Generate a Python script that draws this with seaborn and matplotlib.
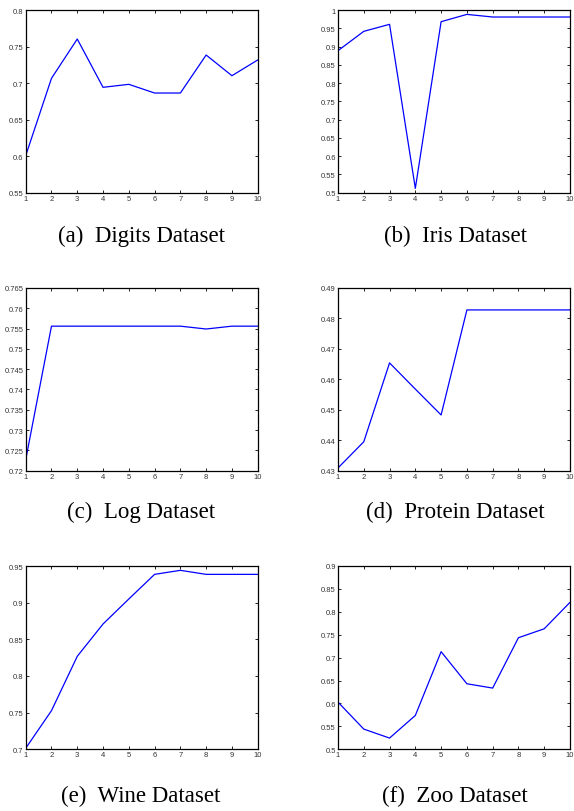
import matplotlib
matplotlib.use("Agg")
import matplotlib.pyplot as plt
import matplotlib.ticker as mticker
import numpy as np
import pandas as pd
import seaborn as sns

x_vals = [1, 2, 3, 4, 5, 6, 7, 8, 9, 10]
digits = [0.6006, 0.7065, 0.7603, 0.6942, 0.6983, 0.6864, 0.6864, 0.7384, 0.7101, 0.7316]
iris = [0.8887, 0.9416, 0.9608, 0.5119, 0.9680, 0.9880, 0.9808, 0.9808, 0.9808, 0.9808]
log = [0.7227, 0.7556, 0.7556, 0.7556, 0.7556, 0.7556, 0.7556, 0.7549, 0.7556, 0.7556]
protein = [0.4309, 0.4395, 0.4654, 0.4568, 0.4483, 0.4828, 0.4828, 0.4828, 0.4828, 0.4828]
wine = [0.7014, 0.7527, 0.8268, 0.8709, 0.9050, 0.9386, 0.9441, 0.9386, 0.9386, 0.9386]
zoo = [0.6030, 0.5441, 0.5245, 0.5739, 0.7130, 0.6430, 0.6336, 0.7435, 0.7630, 0.8207]

captions = ["(a)  Digits Dataset", "(b)  Iris Dataset", "(c)  Log Dataset",
            "(d)  Protein Dataset", "(e)  Wine Dataset", "(f)  Zoo Dataset"]
series = [digits, iris, log, protein, wine, zoo]
ylims = [(0.55, 0.8), (0.5, 1.0), (0.72, 0.765), (0.43, 0.49), (0.7, 0.95), (0.5, 0.9)]
ysteps = [0.05, 0.05, 0.005, 0.01, 0.05, 0.05]

sns.set_theme(style="white")
plt.rcParams['font.family'] = ['Liberation Sans', 'DejaVu Sans']

W, H = 574, 812
fig = plt.figure(figsize=(W / 100, H / 100), dpi=100)

col_lr = [(25.7, 257.7), (338, 570)]
row_tb = [(11, 193.7), (289, 471.7), (567, 750.3)]
cap_y = [236, 512, 796]
cap_x = [141, 455]

for i, (vals, cap, yl, ys) in enumerate(zip(series, captions, ylims, ysteps)):
    r, c = divmod(i, 2)
    l, rr = col_lr[c]
    t, b = row_tb[r]
    ax = fig.add_axes([l / W, 1 - b / H, (rr - l) / W, (b - t) / H])
    df = pd.DataFrame({"k": x_vals, "acc": vals})
    sns.lineplot(data=df, x="k", y="acc", ax=ax, color="#0000ff", linewidth=0.9)
    ax.set_xlim(1, 10)
    ax.set_ylim(*yl)
    ax.set_xticks(x_vals)
    ax.set_yticks(np.round(np.arange(yl[0], yl[1] + ys / 2, ys), 4))
    ax.yaxis.set_major_formatter(mticker.FormatStrFormatter('%g'))
    ax.set_xlabel("")
    ax.set_ylabel("")
    ax.tick_params(direction="in", length=2.5, width=0.6, labelsize=5.5,
                   labelcolor="#333333", color="black", pad=1.5,
                   top=True, right=True, bottom=True, left=True)
    for s in ax.spines.values():
        s.set_color("black")
        s.set_linewidth(0.9)
    fig.text(cap_x[c] / W, 1 - cap_y[r] / H, cap, ha="center", va="center",
             fontsize=16.5, family=["Liberation Serif", "DejaVu Serif"], color="black")

fig.savefig("out.png", dpi=100)
